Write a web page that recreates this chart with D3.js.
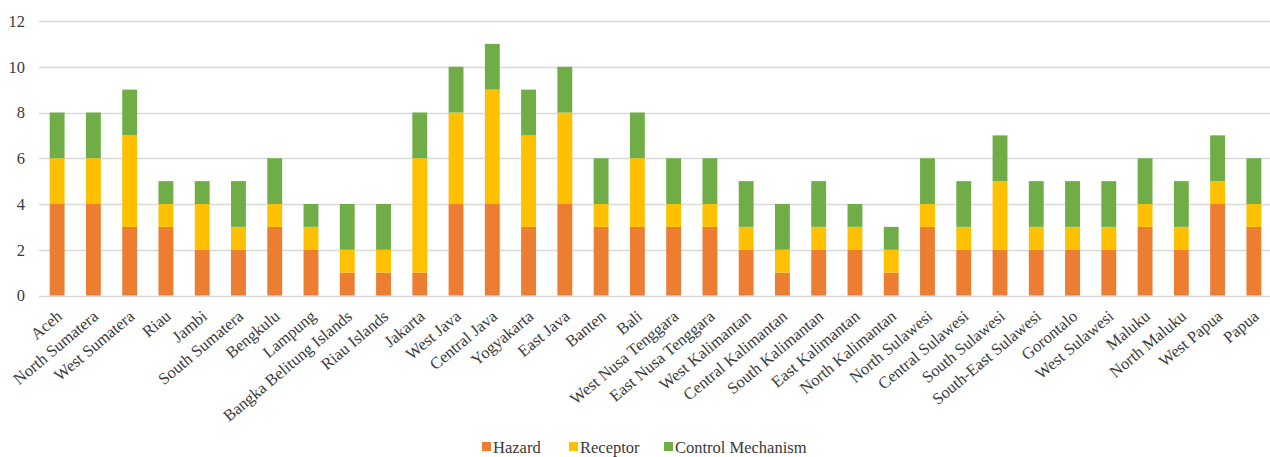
<!DOCTYPE html>
<html>
<head>
<meta charset="utf-8">
<script src="https://cdn.jsdelivr.net/npm/d3@7"></script>
<style>
  html, body { margin: 0; padding: 0; background: #fff; }
  svg, svg text { font-family: "Liberation Serif", "Times New Roman", serif !important; }
</style>
</head>
<body>
<svg id="chart" width="1270" height="457"></svg>
<script>
// Provinces of Indonesia and the number of indicators per component
const provinces = [
  "Aceh", "North Sumatera", "West Sumatera", "Riau", "Jambi", "South Sumatera",
  "Bengkulu", "Lampung", "Bangka Belitung Islands", "Riau Islands", "Jakarta",
  "West Java", "Central Java", "Yogyakarta", "East Java", "Banten", "Bali",
  "West Nusa Tenggara", "East Nusa Tenggara", "West Kalimantan", "Central Kalimantan",
  "South Kalimantan", "East Kalimantan", "North Kalimantan", "North Sulawesi",
  "Central Sulawesi", "South Sulawesi", "South-East Sulawesi", "Gorontalo",
  "West Sulawesi", "Maluku", "North Maluku", "West Papua", "Papua"
];
const hazard   = [4, 4, 3, 3, 2, 2, 3, 2, 1, 1, 1, 4, 4, 3, 4, 3, 3, 3, 3, 2, 1, 2, 2, 1, 3, 2, 2, 2, 2, 2, 3, 2, 4, 3];
const receptor = [2, 2, 4, 1, 2, 1, 1, 1, 1, 1, 5, 4, 5, 4, 4, 1, 3, 1, 1, 1, 1, 1, 1, 1, 1, 1, 3, 1, 1, 1, 1, 1, 1, 1];
const control  = [2, 2, 2, 1, 1, 2, 2, 1, 2, 2, 2, 2, 2, 2, 2, 2, 2, 2, 2, 2, 2, 2, 1, 1, 2, 2, 2, 2, 2, 2, 2, 2, 2, 2];
const seriesNames = ["Hazard", "Receptor", "Control Mechanism"];
const seriesColors = ["#ED7D31", "#FFC000", "#70AD47"];
const yTicks = [0, 2, 4, 6, 8, 10, 12];

const rows = provinces.map((p, i) => ({
  province: p,
  "Hazard": hazard[i],
  "Receptor": receptor[i],
  "Control Mechanism": control[i]
}));

const svg = d3.select("#chart");
const margin = { left: 39, right: -2, top: 21, bottom: 162 };
const width = 1270, height = 457;
const textColor = "#3a3a3a";
const fontSize = 16.5;

const x = d3.scaleBand()
  .domain(provinces)
  .range([margin.left, width - margin.right])
  .paddingInner(0.59)
  .paddingOuter(0.295);

const y = d3.scaleLinear()
  .domain([0, 12])
  .range([height - margin.bottom + 0.5, margin.top]);

// Horizontal gridlines
svg.append("g")
  .selectAll("line")
  .data(yTicks)
  .join("line")
  .attr("x1", margin.left)
  .attr("x2", width)
  .attr("y1", d => Math.round(y(d)) + 0.5)
  .attr("y2", d => Math.round(y(d)) + 0.5)
  .attr("stroke", "#d9d9d9")
  .attr("stroke-width", 1.3);

// Y axis labels
const yAxis = d3.axisLeft(y).tickValues(yTicks).tickSize(0).tickPadding(14);
svg.append("g")
  .attr("transform", `translate(${margin.left},0)`)
  .call(yAxis)
  .attr("font-family", null)
  .call(g => g.select(".domain").remove())
  .call(g => g.selectAll("text")
    .attr("font-size", fontSize)
    .attr("fill", textColor));

// Stacked bars
const stack = d3.stack().keys(seriesNames);
const layers = stack(rows);

svg.append("g")
  .selectAll("g")
  .data(layers)
  .join("g")
  .attr("fill", (d, i) => seriesColors[i])
  .selectAll("rect")
  .data(d => d)
  .join("rect")
  .attr("x", d => x(d.data.province))
  .attr("width", x.bandwidth())
  .attr("y", d => y(d[1]))
  .attr("height", d => y(d[0]) - y(d[1]));

// X axis category labels, rotated
const xAxis = d3.axisBottom(x).tickSize(0).tickPadding(0);
svg.append("g")
  .attr("transform", `translate(0,${y(0)})`)
  .call(xAxis)
  .attr("font-family", null)
  .call(g => g.select(".domain").remove())
  .call(g => g.selectAll("text")
    .attr("font-size", fontSize)
    .attr("fill", textColor)
    .attr("text-anchor", "end")
    .attr("dy", 0)
    .attr("y", 0)
    .attr("transform", "translate(6,22.5) rotate(-40)"));

// Legend
const legendItems = [
  { name: seriesNames[0], color: seriesColors[0], x: 482 },
  { name: seriesNames[1], color: seriesColors[1], x: 569 },
  { name: seriesNames[2], color: seriesColors[2], x: 664 }
];
const legend = svg.append("g").attr("transform", "translate(0,447)");
const li = legend.selectAll("g").data(legendItems).join("g")
  .attr("transform", d => `translate(${d.x},0)`);
li.append("rect")
  .attr("x", 0).attr("y", -5)
  .attr("width", 9).attr("height", 9)
  .attr("fill", d => d.color);
li.append("text")
  .attr("x", 11).attr("y", 5.5)
  .attr("font-size", fontSize)
  .attr("fill", textColor)
  .text(d => d.name);
</script>
</body>
</html>
